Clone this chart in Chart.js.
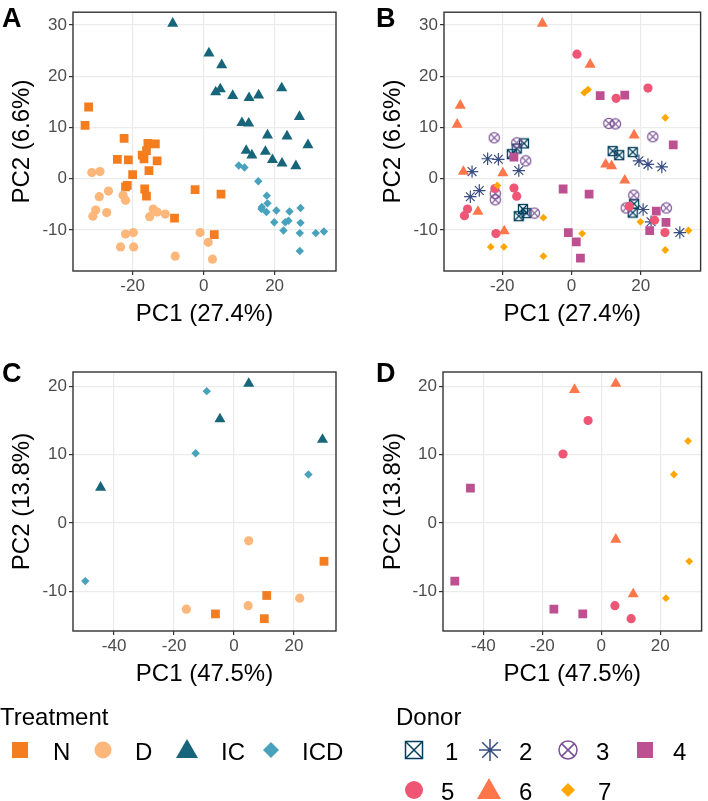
<!DOCTYPE html>
<html lang="en">
<head>
<meta charset="UTF-8">
<title>PCA by treatment and donor</title>
<script src="https://cdn.jsdelivr.net/npm/chart.js"></script>
<style>
  body { margin: 0; background: #fff; }
  #wrap { position: relative; width: 708px; height: 801px; }
  canvas { position: absolute; }
  #overlay { position: absolute; left: 0; top: 0; font-family: "Liberation Sans", Arial, sans-serif; }
</style>
</head>
<body>
<div id="wrap">
  <canvas id="chartA" width="354" height="330" style="left:0;top:0"></canvas>
  <canvas id="chartB" width="354" height="330" style="left:354px;top:0"></canvas>
  <canvas id="chartC" width="354" height="360" style="left:0;top:330px"></canvas>
  <canvas id="chartD" width="354" height="360" style="left:354px;top:330px"></canvas>
  <svg id="overlay" width="708" height="801">
    <g font-weight="bold" font-size="27" fill="#000">
      <text x="2" y="27">A</text>
      <text x="376" y="27">B</text>
      <text x="2" y="382">C</text>
      <text x="376" y="382">D</text>
    </g>
    <!-- legends -->
    <g font-size="24" fill="#000" dominant-baseline="central">
      <text x="0" y="716">Treatment</text>
      <text x="53" y="751">N</text>
      <text x="135" y="751">D</text>
      <text x="221" y="751">IC</text>
      <text x="302" y="751">ICD</text>
      <text x="396" y="716">Donor</text>
      <text x="445" y="751">1</text>
      <text x="519" y="751">2</text>
      <text x="596" y="751">3</text>
      <text x="673" y="751">4</text>
      <text x="441" y="791">5</text>
      <text x="519" y="791">6</text>
      <text x="598" y="791">7</text>
    </g>
    <rect x="12" y="742" width="16" height="16" fill="#F47D20"/>
    <circle cx="103" cy="750" r="8.5" fill="#FDB77A"/>
    <polygon points="187,739 198,758 176,758" fill="#17657A"/>
    <polygon points="271,742 279,750 271,758 263,750" fill="#48A2BC"/>
    <g fill="none" stroke-width="1.5">
      <rect x="405.5" y="741.5" width="17" height="17" stroke="#003f5c"/>
      <path d="M405.5 741.5 L422.5 758.5 M422.5 741.5 L405.5 758.5" stroke="#003f5c"/>
      <path d="M490 739 V761 M479 750 H501 M482.2 742.2 L497.8 757.8 M497.8 742.2 L482.2 757.8" stroke="#374c80"/>
      <circle cx="568" cy="750" r="9" stroke="#7a5195"/>
      <path d="M561.6 743.6 L574.4 756.4 M574.4 743.6 L561.6 756.4" stroke="#7a5195"/>
    </g>
    <rect x="637" y="742" width="16" height="16" fill="#bc5090"/>
    <circle cx="414" cy="790" r="9" fill="#ef5675"/>
    <polygon points="489,778 501,799 477,799" fill="#ff764a"/>
    <polygon points="568,783 575,790 568,797 561,790" fill="#ffa600"/>
  </svg>
</div>

<script>
// ---- data: PCA of all samples (panels A, B) ----
// treatment groups
const treatN = [[-32.4,14.0],[-33.4,10.4],[-22.4,7.9],[-15.7,6.9],[-13.6,6.8],[-16.1,5.5],[-17.3,4.6],
  [-16.8,3.9],[-24.3,3.8],[-21.2,3.7],[-13.1,3.5],[-15.4,1.6],[-20.0,0.8],[-22.0,-1.6],[-21.5,-1.3],
  [-16.6,-2.0],[-16.1,-3.4],[-2.4,-2.1],[4.9,-3.0],[-8.2,-7.7],[3.0,-10.9]];
const treatD = [[-31.5,1.2],[-29.2,1.4],[-26.8,-2.4],[-29.4,-3.5],[-30.4,-6.1],[-31.2,-7.3],[-27.3,-6.6],
  [-22.7,-3.2],[-22.0,-4.2],[-14.2,-5.9],[-13.1,-6.5],[-15.2,-7.4],[-10.8,-6.9],[-22.0,-10.8],[-19.8,-10.5],
  [-23.4,-13.3],[-19.7,-13.3],[-8.0,-15.1],[-1.0,-10.5],[1.3,-12.4],[2.5,-15.7]];
const treatIC = [[-8.7,30.3],[1.5,24.5],[5.1,22.2],[4.7,17.5],[3.4,16.9],[8.2,16.2],[12.8,15.8],[15.5,16.3],
  [22.0,17.7],[27.0,12.1],[10.8,10.9],[12.7,10.8],[18.0,8.5],[23.5,8.3],[29.4,6.6],[12.0,5.5],[13.6,4.6],
  [17.4,5.3],[19.4,3.7],[22.1,3.0],[26.0,2.5]];
const treatICD = [[9.9,2.6],[11.5,2.2],[15.4,-0.5],[17.8,-3.3],[18.0,-4.8],[16.4,-5.5],[16.3,-5.9],[17.7,-6.5],
  [20.5,-6.2],[24.2,-6.4],[27.3,-5.7],[19.9,-8.5],[23.0,-8.5],[23.9,-8.2],[27.3,-8.6],[22.5,-10.1],
  [27.1,-10.6],[31.6,-10.6],[33.9,-10.3],[27.1,-14.1]];

// donors
const donor1 = [[-13.7,6.9],[-15.8,5.9],[-17.2,4.8],[11.9,5.4],[13.8,4.6],[17.7,5.2],[18.1,-4.9],[17.7,-6.6],
  [-14.0,-5.9],[-13.0,-6.7],[-15.2,-7.3]];
const donor2 = [[-24.2,3.9],[-21.1,3.8],[-28.7,1.4],[-15.2,1.6],[-29.2,-3.5],[-26.6,-2.3],[19.5,3.5],[22.1,2.8],
  [26.1,2.3],[20.7,-6.0],[23.0,-8.4],[31.3,-10.5]];
const donor3 = [[-22.3,8.0],[10.8,10.8],[12.7,10.7],[23.5,8.2],[-15.8,7.0],[-13.2,3.5],[-22.0,-2.9],[-22.0,-4.1],
  [-10.7,-6.7],[18.0,-3.2],[15.8,-5.7],[27.4,-5.7]];
const donor4 = [[8.3,16.2],[15.4,16.3],[29.4,6.6],[-16.6,4.2],[-2.4,-2.0],[5.1,-3.0],[24.5,-6.3],[27.3,-8.5],
  [22.6,-10.1],[-0.9,-10.5],[1.4,-12.3],[2.6,-15.5]];
const donor5 = [[1.6,24.3],[22.1,17.7],[12.9,15.7],[-16.6,-1.8],[-15.8,-3.4],[-22.1,-1.9],[-30.0,-5.9],[-30.9,-7.2],
  [-21.8,-10.7],[16.7,-5.4],[24.0,-8.1],[27.0,-10.5]];
const donor6 = [[-8.4,30.3],[5.4,22.3],[-32.1,14.3],[-33.0,10.6],[-31.2,1.4],[-19.8,1.1],[-27.0,-6.4],[-19.4,-10.2],
  [18.1,8.5],[9.9,2.8],[11.6,2.5],[15.4,-0.3]];
const donor7 = [[3.7,16.8],[4.8,17.4],[27.1,11.9],[-21.4,-1.3],[-8.1,-7.6],[19.9,-8.4],[3.1,-10.7],[33.8,-10.1],
  [-23.3,-13.3],[-19.5,-13.3],[-8.1,-15.1],[27.1,-13.9]];

// ---- data: PCA of the subset (panels C, D) ----
const subN = [[30.0,-5.6],[10.9,-10.6],[-6.2,-13.3],[10.1,-14.0]];
const subD = [[4.9,-2.6],[-15.9,-12.6],[4.7,-12.1],[21.9,-11.0]];
const subIC = [[-44.5,5.2],[-4.7,15.2],[4.9,20.4],[29.5,12.2]];
const subICD = [[-49.6,-8.5],[-9.1,19.3],[-12.8,10.2],[24.8,7.1]];
const subDonor4 = [[-44.4,5.1],[-49.7,-8.5],[-16.1,-12.6],[-6.3,-13.3]];
const subDonor5 = [[-4.5,15.0],[-13.0,10.1],[4.6,-12.1],[10.1,-14.0]];
const subDonor6 = [[-9.1,19.5],[4.9,20.4],[4.9,-2.4],[10.8,-10.4]];
const subDonor7 = [[29.4,12.0],[24.6,7.1],[29.8,-5.6],[21.9,-11.0]];

// ticks and titles
const xTicksAB = [-20, 0, 20];
const yTicksAB = [-10, 0, 10, 20, 30];
const xTicksCD = [-40, -20, 0, 20];
const yTicksCD = [-10, 0, 10, 20];
const xTitleAB = 'PC1 (27.4%)', yTitleAB = 'PC2 (6.6%)';
const xTitleCD = 'PC1 (47.5%)', yTitleCD = 'PC2 (13.8%)';

const treatColors = { N: '#F47D20', D: '#FDB77A', IC: '#17657A', ICD: '#48A2BC' };
const donorColors = ['#003f5c', '#374c80', '#7a5195', '#bc5090', '#ef5675', '#ff764a', '#ffa600'];

const FONT = '"Liberation Sans", Arial, sans-serif';

// open symbols that chart.js has no built-in style for
function boxCross(color) {
  const c = document.createElement('canvas');
  c.width = c.height = 12;
  const g = c.getContext('2d');
  g.strokeStyle = color; g.lineWidth = 1.3;
  g.strokeRect(1.5, 1.5, 9, 9);
  g.beginPath(); g.moveTo(1.5, 1.5); g.lineTo(10.5, 10.5); g.moveTo(10.5, 1.5); g.lineTo(1.5, 10.5); g.stroke();
  return c;
}
function circleCross(color) {
  const c = document.createElement('canvas');
  c.width = c.height = 13;
  const g = c.getContext('2d');
  g.strokeStyle = color; g.lineWidth = 1.2;
  g.beginPath(); g.arc(6.5, 6.5, 5.1, 0, Math.PI * 2); g.stroke();
  g.beginPath(); g.moveTo(2.9, 2.9); g.lineTo(10.1, 10.1); g.moveTo(10.1, 2.9); g.lineTo(2.9, 10.1); g.stroke();
  return c;
}

function toXY(arr) { return arr.map(p => ({ x: p[0], y: p[1] })); }

function ds(points, style, color, radius, borderWidth) {
  return {
    data: toXY(points),
    pointStyle: style,
    pointBackgroundColor: color,
    pointBorderColor: color,
    pointBorderWidth: borderWidth || 0,
    pointRadius: radius,
    pointHoverRadius: radius
  };
}

function treatmentSets(n, d, ic, icd) {
  return [
    ds(icd, 'rectRot', treatColors.ICD, 4.2),
    ds(ic, 'triangle', treatColors.IC, 6.4),
    ds(d, 'circle', treatColors.D, 4.6),
    ds(n, 'rect', treatColors.N, 6.2)
  ];
}

const frame = {
  id: 'frame',
  afterDatasetsDraw(chart) {
    const { ctx, chartArea: a } = chart;
    ctx.save();
    ctx.strokeStyle = '#333333';
    ctx.lineWidth = 1.4;
    ctx.strokeRect(a.left, a.top, a.right - a.left, a.bottom - a.top);
    ctx.restore();
  }
};

function axis(pos, min, max, ticks, title, size, titlePad) {
  const bottom = pos === 'bottom';
  return {
    type: 'linear', position: pos, min: min, max: max,
    afterBuildTicks: s => { s.ticks = ticks.map(v => ({ value: v })); },
    afterFit: s => { if (bottom) s.height = size; else s.width = size; },
    grid: { color: '#EBEBEB', lineWidth: 1.2, tickColor: '#333333', tickLength: 4, tickWidth: 1.2 },
    border: { display: false },
    ticks: { color: '#4D4D4D', font: { family: FONT, size: 17 }, padding: bottom ? 1 : 2,
             maxRotation: 0, autoSkip: false },
    title: { display: true, text: title, color: '#000', font: { family: FONT, size: 24 },
             padding: bottom ? { top: 0, bottom: 0 } : { top: titlePad, bottom: 0 } }
  };
}

function panel(id, datasets, xr, yr, xt, yt, xTitle, yTitle, yWidth, yTitlePad, padding) {
  return new Chart(document.getElementById(id), {
    type: 'scatter',
    data: { datasets: datasets },
    options: {
      responsive: false,
      animation: false,
      events: [],
      layout: { padding: padding },
      plugins: { legend: { display: false }, tooltip: { enabled: false } },
      scales: {
        x: axis('bottom', xr[0], xr[1], xt, xTitle, 58),
        y: axis('left', yr[0], yr[1], yt, yTitle, yWidth, yTitlePad)
      }
    },
    plugins: [frame]
  });
}

const rangeXAB = [-36.8, 37.3], rangeYAB = [-18, 32.5];
const rangeXCD = [-53.7, 34], rangeYCD = [-15.8, 22.1];

panel('chartA', treatmentSets(treatN, treatD, treatIC, treatICD), rangeXAB, rangeYAB, xTicksAB, yTicksAB,
  xTitleAB, yTitleAB, 73, 8, { left: 0, top: 12, right: 18, bottom: 1 });

panel('chartB', [
  ds(donor7, 'rectRot', donorColors[6], 3.9),
  ds(donor6, 'triangle', donorColors[5], 6.4),
  ds(donor5, 'circle', donorColors[4], 4.6),
  ds(donor4, 'rect', donorColors[3], 6.2),
  ds(donor3, circleCross(donorColors[2]), donorColors[2], 5),
  ds(donor2, 'star', donorColors[1], 6.2, 1.2),
  ds(donor1, boxCross(donorColors[0]), donorColors[0], 5)
], rangeXAB, rangeYAB, xTicksAB, yTicksAB, xTitleAB, yTitleAB, 90, 25, { left: 0, top: 12, right: 1, bottom: 1 });

panel('chartC', treatmentSets(subN, subD, subIC, subICD), rangeXCD, rangeYCD, xTicksCD, yTicksCD,
  xTitleCD, yTitleCD, 73, 8, { left: 0, top: 42, right: 18, bottom: 1 });

panel('chartD', [
  ds(subDonor7, 'rectRot', donorColors[6], 3.9),
  ds(subDonor6, 'triangle', donorColors[5], 6.4),
  ds(subDonor5, 'circle', donorColors[4], 4.6),
  ds(subDonor4, 'rect', donorColors[3], 6.2)
], rangeXCD, rangeYCD, xTicksCD, yTicksCD, xTitleCD, yTitleCD, 89, 25, { left: 0, top: 42, right: 1, bottom: 1 });
</script>
</body>
</html>
